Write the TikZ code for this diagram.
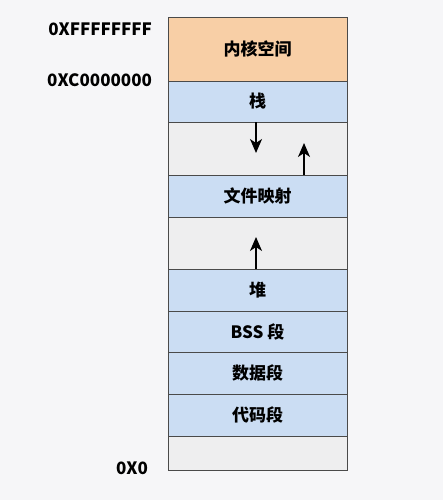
\documentclass[tikz,border=0pt]{standalone}
\usepackage{fontspec}
\newfontfamily\cjk{Noto Sans CJK SC}
\usetikzlibrary{positioning,arrows.meta}
\definecolor{kernorange}{HTML}{F8CFA6}
\definecolor{segblue}{HTML}{CBDDF3}
\definecolor{gapgray}{HTML}{EEEEEF}
\definecolor{edgegray}{HTML}{4A4A4A}
\definecolor{bggray}{HTML}{F6F6F8}
\begin{document}
\begin{tikzpicture}[x=1pt,y=-1pt,inner sep=0pt,outer sep=0pt,
seg/.style={draw=edgegray,rectangle,minimum width=179pt,minimum height=42pt,fill=segblue,line width=0.9pt,font=\cjk\bfseries\fontsize{17}{17}\selectfont},
gapbox/.style={seg,fill=gapgray},
addr/.style={anchor=east,font=\cjk\bfseries\fontsize{17}{17}\selectfont},
arr/.style={-{Stealth[length=14pt,width=12pt,inset=4pt]},line width=1.8pt}]
\fill[bggray] (0,0) rectangle (443,500);
\useasboundingbox (0,0) rectangle (443,500);
% memory layout, top to bottom
\draw (257.5,49) node[seg,fill=kernorange,minimum height=64pt] (kernel) {内核空间};
\node[seg,below=0pt of kernel,minimum height=41pt] (stack) {栈};
\node[gapbox,below=0pt of stack,minimum height=53pt] (gap1) {};
\node[seg,below=0pt of gap1] (mmap) {文件映射};
\node[gapbox,below=0pt of mmap,minimum height=52pt] (gap2) {};
\node[seg,below=0pt of gap2] (heap) {堆};
\node[seg,below=0pt of heap,minimum height=41pt] (bss) {BSS 段};
\node[seg,below=0pt of bss] (data) {数据段};
\node[seg,below=0pt of data] (code) {代码段};
\node[gapbox,below=0pt of code,minimum height=34pt] (low) {};
% growth directions
\draw[arr] ([xshift=-1.5pt]stack.south) -- ++(0,31);
\draw[arr] ([xshift=46.5pt]mmap.north) -- ++(0,-32);
\draw[arr] ([xshift=-1.5pt]heap.north) -- ++(0,-32);
% addresses
\node[addr] (top) at (152,29) {0XFFFFFFFF};
\node[addr] (kbase) at (152,80) {0XC0000000};
\node[addr] (zero) at (148,468) {0X0};
\end{tikzpicture}
\end{document}
